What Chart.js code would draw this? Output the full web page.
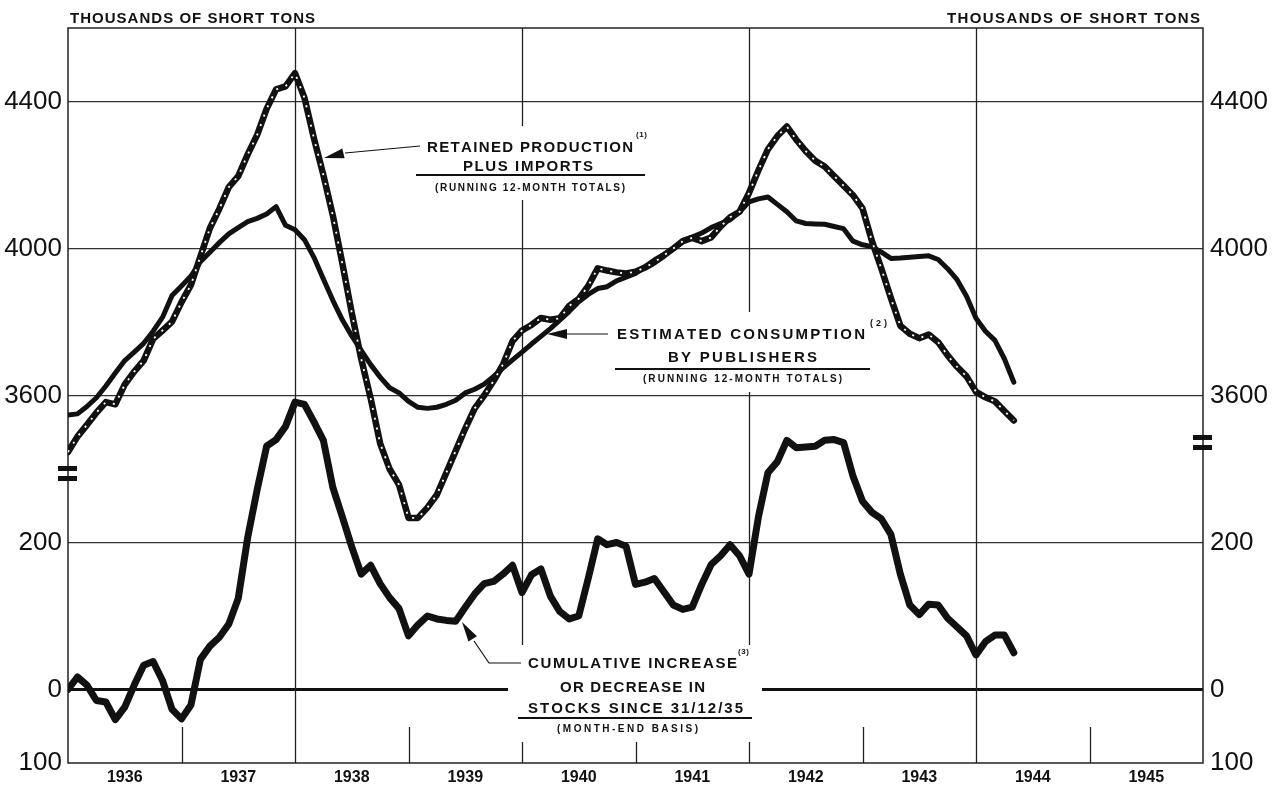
<!DOCTYPE html>
<html>
<head>
<meta charset="utf-8">
<script src="https://cdn.jsdelivr.net/npm/chart.js@4"></script>
<style>
  html, body { margin: 0; padding: 0; background: #fff; }
  #wrap { width: 1283px; height: 786px; }
</style>
</head>
<body>
<div id="wrap"><canvas id="chart" width="1283" height="786"></canvas></div>
<script>
// years on the time axis (one label per year, centred)
const years = [1936, 1937, 1938, 1939, 1940, 1941, 1942, 1943, 1944, 1945];

// tick labels, upper part (thousands of short tons) and lower part (stock change)
const topTicks = [3600, 4000, 4400];
const stockTicks = [-100, 0, 200];
const stockTickLabels = ['100', '0', '200'];

// month-end values, Dec 1935 .. Apr 1944
const retained = [
  3446, 3488, 3520, 3553, 3582, 3576, 3630, 3665, 3695, 3754, 3777, 3801, 3854, 3901, 3978, 4055, 4108, 4167, 4197, 4256, 4309, 4380, 4433, 4441, 4477,
  4410, 4300, 4200, 4090, 3960, 3825, 3700, 3592, 3470, 3400, 3357, 3267, 3267, 3295, 3330, 3390, 3450, 3510, 3565, 3600, 3640, 3685, 3748, 3777,
  3792, 3811, 3806, 3810, 3844, 3863, 3898, 3946, 3940, 3935, 3932, 3937, 3948, 3963, 3981, 4000, 4020, 4029, 4020, 4030, 4060, 4085, 4100,
  4151, 4213, 4270, 4306, 4332, 4296, 4265, 4239, 4223, 4197, 4171, 4145, 4109, 4020, 3945, 3865, 3790, 3768, 3756, 3766, 3745, 3709, 3678, 3652, 3610, 3595, 3584, 3558, 3532
];
const consumption = [
  3547, 3550, 3570, 3594, 3626, 3661, 3695, 3718, 3742, 3775, 3813, 3872, 3898, 3925, 3964, 3990, 4016, 4040, 4057, 4073, 4082, 4094, 4114, 4063, 4051,
  4024, 3976, 3917, 3859, 3806, 3762, 3723, 3684, 3650, 3621, 3607, 3584, 3568, 3565, 3568, 3576, 3587, 3607, 3617, 3631, 3652, 3675, 3697, 3718,
  3740, 3761, 3782, 3805, 3829, 3855, 3875, 3891, 3896, 3912, 3922, 3932, 3950, 3969, 3984, 4000, 4021, 4031, 4042, 4057, 4068, 4078, 4099,
  4127, 4135, 4140, 4120, 4100, 4075, 4068, 4067, 4066, 4060, 4054, 4020, 4010, 4005, 3990, 3973, 3974, 3976, 3978, 3980, 3970, 3945, 3915, 3870, 3810, 3775, 3750, 3700, 3636
];
const stocks = [
  0, 17, 6, -15, -17, -41, -24, 6, 33, 38, 12, -27, -40, -21, 41, 59, 71, 89, 124, 207, 272, 331, 340, 358, 391,
  388, 364, 339, 275, 235, 194, 157, 169, 144, 125, 110, 73, 88, 100, 96, 94, 93, 112, 130, 144, 147, 157, 169, 132,
  156, 164, 127, 106, 96, 100, 151, 205, 197, 200, 195, 143, 146, 151, 133, 115, 109, 112, 143, 170, 182, 197, 182,
  157, 235, 295, 310, 339, 329, 330, 331, 339, 340, 336, 290, 256, 241, 232, 211, 157, 115, 102, 116, 115, 97, 85, 73, 47, 65, 74, 74, 50
];

// two stacked scales sharing one frame (broken axis)
const TOP_MIN = 2600, TOP_MAX = 4600;
const STOCK_MIN = -100, STOCK_MAX = 900;
const toTop = b => TOP_MIN + (b - STOCK_MIN) * (TOP_MAX - TOP_MIN) / (STOCK_MAX - STOCK_MIN);
const MONTHS = (years.length) * 12;

const tickLabel = new Map();
stockTicks.forEach((b, i) => tickLabel.set(toTop(b), stockTickLabels[i]));
topTicks.forEach(v => tickLabel.set(v, String(v)));
const axisTicks = scale => {
  scale.ticks = [...stockTicks.map(toTop), ...topTicks].map(v => ({ value: v }));
};

const pts = arr => arr.map((v, i) => ({ x: i, y: v }));
const INK = '#111';

// text stretched to a given width, like hand lettering
function spaced(ctx, text, x1, x2, base, font) {
  ctx.font = font;
  const chars = [...text];
  const w = chars.map(c => ctx.measureText(c).width);
  const total = w.reduce((a, b) => a + b, 0);
  const extra = chars.length > 1 ? (x2 - x1 - total) / (chars.length - 1) : 0;
  let x = x1;
  chars.forEach((c, i) => { ctx.fillText(c, x, base); x += w[i] + extra; });
}

function arrowHead(ctx, tipX, tipY, fromX, fromY, len, half) {
  const a = Math.atan2(tipY - fromY, tipX - fromX);
  const bx = tipX - Math.cos(a) * len, by = tipY - Math.sin(a) * len;
  ctx.beginPath();
  ctx.moveTo(tipX, tipY);
  ctx.lineTo(bx + Math.sin(a) * half, by - Math.cos(a) * half);
  ctx.lineTo(bx - Math.sin(a) * half, by + Math.cos(a) * half);
  ctx.closePath();
  ctx.fill();
}

const labelBoxes = [
  [412, 126, 240, 74],   // retained production
  [605, 312, 287, 80],   // consumption
  [508, 645, 254, 97]    // cumulative stocks
];

const decor = {
  id: 'decor',
  beforeDraw(chart) {
    const ctx = chart.ctx;
    ctx.save();
    ctx.fillStyle = '#fff';
    ctx.fillRect(0, 0, chart.width, chart.height);
    ctx.restore();
  },
  beforeDatasetsDraw(chart) {
    const { ctx, chartArea: a, scales } = chart;
    const xs = scales.x;
    ctx.save();
    ctx.strokeStyle = '#222';
    ctx.lineWidth = 1.3;
    years.forEach(y => {
      const m = (y - years[0]) * 12;
      if (m === 0) return;
      const px = Math.round(xs.getPixelForValue(m)) + 0.5;
      ctx.beginPath();
      if ((y - years[0]) % 2 === 0) {
        ctx.moveTo(px, a.top); ctx.lineTo(px, a.bottom);
      } else {
        ctx.moveTo(px, a.bottom - 36); ctx.lineTo(px, a.bottom);
      }
      ctx.stroke();
    });
    // frame
    ctx.lineWidth = 1.5;
    ctx.strokeRect(a.left, a.top, a.right - a.left, a.bottom - a.top);
    // clear grid behind the labels
    ctx.fillStyle = '#fff';
    labelBoxes.forEach(b => ctx.fillRect(b[0], b[1], b[2], b[3]));
    ctx.restore();
  },
  afterDraw(chart) {
    const ctx = chart.ctx;
    ctx.save();
    ctx.fillStyle = INK;
    ctx.strokeStyle = INK;
    ctx.textAlign = 'left';
    ctx.textBaseline = 'alphabetic';
    const big = 'bold 15px "Liberation Sans", Arial, sans-serif';
    const small = 'bold 10px "Liberation Sans", Arial, sans-serif';
    const sup = 'bold 8px "Liberation Sans", Arial, sans-serif';

    // unit titles
    spaced(ctx, 'THOUSANDS OF SHORT TONS', 70, 315, 23, big);
    spaced(ctx, 'THOUSANDS OF SHORT TONS', 947, 1200, 23, big);

    // retained production label
    spaced(ctx, 'RETAINED PRODUCTION', 427, 633, 152, big);
    spaced(ctx, '(1)', 636, 647, 137, sup);
    spaced(ctx, 'PLUS IMPORTS', 463, 593, 171, big);
    spaced(ctx, '(RUNNING 12-MONTH TOTALS)', 435, 625, 191, small);
    // consumption label
    spaced(ctx, 'ESTIMATED CONSUMPTION', 617, 865, 339, big);
    spaced(ctx, '(2)', 870, 887, 326, 'bold 9px "Liberation Sans", Arial, sans-serif');
    spaced(ctx, 'BY PUBLISHERS', 668, 817, 362, big);
    spaced(ctx, '(RUNNING 12-MONTH TOTALS)', 643, 842, 382, small);
    // cumulative label
    spaced(ctx, 'CUMULATIVE INCREASE', 528, 737, 668, big);
    spaced(ctx, '(3)', 738, 749, 654, sup);
    spaced(ctx, 'OR DECREASE IN', 560, 705, 692, big);
    spaced(ctx, 'STOCKS SINCE 31/12/35', 528, 743, 713, big);
    spaced(ctx, '(MONTH-END BASIS)', 557, 698, 732, small);

    // underlines
    ctx.lineWidth = 1.8;
    [[416, 645, 175], [615, 870, 369], [518, 752, 718]].forEach(u => {
      ctx.beginPath(); ctx.moveTo(u[0], u[2]); ctx.lineTo(u[1], u[2]); ctx.stroke();
    });

    // leader arrows
    ctx.lineWidth = 1.2;
    ctx.beginPath(); ctx.moveTo(420, 146); ctx.lineTo(345, 153); ctx.stroke();
    arrowHead(ctx, 324, 158, 345, 153, 20, 5);
    ctx.beginPath(); ctx.moveTo(608, 334); ctx.lineTo(566, 334); ctx.stroke();
    arrowHead(ctx, 547, 334, 566, 334, 20, 5);
    ctx.beginPath(); ctx.moveTo(521, 663); ctx.lineTo(489, 663); ctx.lineTo(474, 641); ctx.stroke();
    arrowHead(ctx, 462, 622, 474, 641, 20, 5);

    // axis break marks
    ctx.fillRect(58, 466, 19, 5);
    ctx.fillRect(58, 476, 19, 5);
    ctx.fillRect(1193, 435, 19, 5);
    ctx.fillRect(1193, 445, 19, 5);
    ctx.restore();
  }
};

const yFont = { family: '"Liberation Sans", Arial, sans-serif', size: 26 };

new Chart(document.getElementById('chart'), {
  type: 'line',
  data: {
    datasets: [
      { data: pts(retained), yAxisID: 'y', borderColor: '#fff', borderWidth: 1.8, borderDash: [2, 8], borderCapStyle: 'butt', order: 0 },
      { data: pts(retained), yAxisID: 'y', borderColor: INK, borderWidth: 6.5, order: 1 },
      { data: pts(consumption), yAxisID: 'y', borderColor: INK, borderWidth: 5, order: 2 },
      { data: pts(stocks), yAxisID: 'y2', borderColor: INK, borderWidth: 7, order: 3 }
    ]
  },
  options: {
    responsive: false,
    animation: false,
    layout: { padding: { top: 28, left: 0, right: 0, bottom: 0 } },
    elements: {
      point: { radius: 0 },
      line: { tension: 0, borderJoinStyle: 'round', borderCapStyle: 'round' }
    },
    plugins: { legend: { display: false }, tooltip: { enabled: false } },
    scales: {
      x: {
        type: 'linear', min: 0, max: MONTHS,
        afterBuildTicks: s => { s.ticks = years.map(y => ({ value: (y - years[0]) * 12 + 6 })); },
        afterFit: s => { s.height = 23; },
        ticks: {
          callback: v => String(years[0] + (v - 6) / 12),
          font: { family: '"Liberation Sans", Arial, sans-serif', size: 16, weight: 'bold' },
          color: INK, padding: 5, maxRotation: 0, autoSkip: false
        },
        grid: { display: false, drawTicks: false },
        border: { display: false }
      },
      y: {
        position: 'left', min: TOP_MIN, max: TOP_MAX,
        afterBuildTicks: axisTicks,
        afterFit: s => { s.width = 68; },
        ticks: { callback: v => tickLabel.get(v), font: yFont, color: INK, padding: 6 },
        grid: {
          drawTicks: false,
          color: c => c.tick.value === TOP_MIN ? 'rgba(0,0,0,0)' : (c.tick.value === toTop(0) ? INK : '#333'),
          lineWidth: c => c.tick.value === toTop(0) ? 3 : 1.3
        },
        border: { display: false }
      },
      yR: {
        position: 'right', min: TOP_MIN, max: TOP_MAX,
        afterBuildTicks: axisTicks,
        afterFit: s => { s.width = 80; },
        ticks: { callback: v => tickLabel.get(v), font: yFont, color: INK, padding: 7 },
        grid: { display: false, drawTicks: false },
        border: { display: false }
      },
      y2: { display: false, min: STOCK_MIN, max: STOCK_MAX }
    }
  },
  plugins: [decor]
});
</script>
</body>
</html>
